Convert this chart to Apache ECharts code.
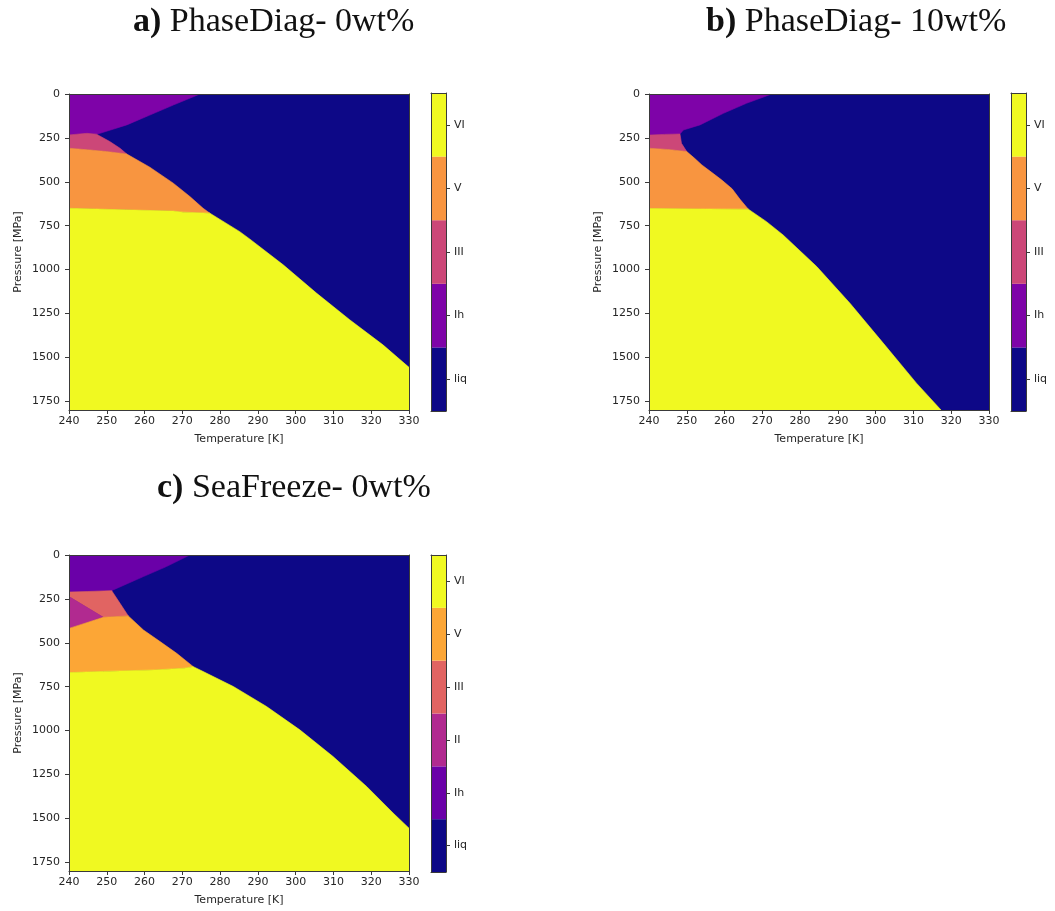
<!DOCTYPE html>
<html>
<head>
<meta charset="utf-8">
<script src="https://cdn.jsdelivr.net/npm/echarts@6/dist/echarts.min.js"></script>
<style>html,body{margin:0;padding:0;background:#fff}#c{width:1055px;height:911px}</style>
</head>
<body>
<div id="c"></div>
<script>
// ---- axes / categories ----
const T_MIN = 240, T_MAX = 330, T_STEP = 10;
const P_MIN = 0, P_MAX = 1800;
const yTicks = [0, 250, 500, 750, 1000, 1250, 1500, 1750];
const catsAB = ['liq', 'Ih', 'III', 'V', 'VI'];
const colorsAB = ['#0d0887', '#7e03a8', '#cc4778', '#f89540', '#f0f921'];
const catsC = ['liq', 'Ih', 'II', 'III', 'V', 'VI'];
const colorsC = ['#0d0887', '#6a00a8', '#b12a90', '#e16462', '#fca636', '#f0f921'];

// ---- phase regions (Temperature K, Pressure MPa) ----
const liqRegion = [[240, 0], [330, 0], [330, 1800], [240, 1800]];

// a) PhaseDiag- 0wt%
const aIh = [[240, 0], [274.7, 0], [267.6, 63], [261.4, 120], [255.3, 176], [248.2, 224], [247.3, 229], [244.7, 224], [240, 233]];
const aIII = [[240, 233], [244.7, 224], [247.3, 229], [250.8, 271], [253.5, 309], [255.3, 342], [250, 328], [245, 318], [240, 309]];
const aV = [[240, 309], [245, 318], [250, 328], [255.3, 342], [261.4, 417], [267.6, 508], [272, 584], [275.5, 651], [277.3, 679], [270.2, 673], [267.6, 667], [255, 660], [240, 651]];
const aVI = [[240, 651], [255, 660], [267.6, 667], [270.2, 673], [277.3, 679], [285.2, 784], [287.9, 827], [296.7, 973], [305.5, 1134], [314.3, 1286], [323.1, 1429], [330, 1557], [330, 1800], [240, 1800]];

// b) PhaseDiag- 10wt%
const bIh = [[240, 0], [272.5, 0], [265.8, 53], [259.7, 110], [253.5, 176], [249.1, 205], [248.2, 228], [244, 230], [240, 234]];
const bIII = [[240, 234], [244, 230], [248.2, 228], [248.6, 281], [250, 328], [245, 316], [240, 309]];
const bV = [[240, 309], [245, 316], [250, 328], [252, 365], [254, 404], [256.5, 445], [259.2, 489], [262, 540], [264.1, 600], [266.3, 656], [255, 655], [240, 652]];
const bVI = [[240, 652], [255, 655], [266.3, 656], [271.1, 727], [275.5, 803], [284.4, 983], [293.2, 1192], [302, 1419], [310.8, 1647], [317.3, 1800], [240, 1800]];

// c) SeaFreeze- 0wt%
const cIh = [[240, 0], [272, 0], [265.8, 66], [259.7, 123], [251.7, 199], [251.3, 205], [245, 208], [240, 211]];
const cIII = [[240, 211], [245, 208], [251.3, 203], [253.5, 275], [255.7, 347], [249.1, 355], [240, 237]];
const cII = [[240, 237], [249.1, 355], [240, 418]];
const cV = [[240, 418], [249.1, 355], [255.7, 347], [259.7, 427], [264.1, 493], [268.5, 560], [272.9, 636], [270.5, 645], [262.5, 655], [249.1, 663], [240, 670]];
const cVI = [[240, 670], [249.1, 663], [262.5, 655], [270.5, 645], [272.9, 636], [274.7, 655], [283.5, 749], [292.3, 863], [301.1, 996], [309.9, 1148], [318.8, 1319], [325.8, 1470], [330, 1556], [330, 1800], [240, 1800]];

const panels = [
  { title: 'PhaseDiag- 0wt%', tag: 'a)', tLeft: 128, tTop: 0, left: 69, top: 94, cbLeft: 431, cbTop: 93, cbH: 318,
    cats: catsAB, colors: colorsAB,
    regions: [[liqRegion, 'liq'], [aIh, 'Ih'], [aIII, 'III'], [aV, 'V'], [aVI, 'VI']] },
  { title: 'PhaseDiag- 10wt%', tag: 'b)', tLeft: 701, tTop: 0, left: 649, top: 94, cbLeft: 1011, cbTop: 93, cbH: 318,
    cats: catsAB, colors: colorsAB,
    regions: [[liqRegion, 'liq'], [bIh, 'Ih'], [bIII, 'III'], [bV, 'V'], [bVI, 'VI']] },
  { title: 'SeaFreeze- 0wt%', tag: 'c)', tLeft: 152, tTop: 466, left: 69, top: 555, cbLeft: 431, cbTop: 555, cbH: 317,
    cats: catsC, colors: colorsC,
    regions: [[liqRegion, 'liq'], [cIh, 'Ih'], [cIII, 'III'], [cII, 'II'], [cV, 'V'], [cVI, 'VI']] }
];

const FONT = 'DejaVu Sans';
const TXT = '#262626';
const LINE = '#3a3a3a';
const option = { animation: false, title: [], grid: [], xAxis: [], yAxis: [], series: [] };
const plain = v => String(v);

panels.forEach(p => {
  option.title.push({
    left: p.tLeft, top: p.tTop,
    text: '{b|' + p.tag + '} ' + p.title,
    textStyle: { fontFamily: 'Liberation Serif', fontSize: 34, fontWeight: 'normal', color: '#111',
      rich: { b: { fontFamily: 'Liberation Serif', fontSize: 34, fontWeight: 'bold', color: '#111' } } }
  });
  const g = option.grid.length;
  option.grid.push({ left: p.left, top: p.top, width: 340, height: 316 });
  option.grid.push({ left: p.cbLeft, top: p.cbTop, width: 15, height: p.cbH });
  const xi = option.xAxis.length, yi = option.yAxis.length;
  const noSplit = { show: false };
  const frameLine = { show: true, onZero: false, lineStyle: { color: LINE, width: 1 } };
  option.xAxis.push({ gridIndex: g, type: 'value', min: T_MIN, max: T_MAX, interval: T_STEP, z: 5,
    name: 'Temperature [K]', nameLocation: 'middle', nameGap: 24,
    nameTextStyle: { fontFamily: FONT, fontSize: 11, color: TXT },
    axisLine: frameLine,
    axisTick: { show: true, length: 4, lineStyle: { color: LINE } },
    axisLabel: { fontFamily: FONT, fontSize: 11, color: TXT, margin: 6, formatter: plain },
    splitLine: noSplit });
  option.xAxis.push({ gridIndex: g, type: 'value', position: 'top', min: T_MIN, max: T_MAX, z: 5,
    axisLine: frameLine, axisTick: { show: false }, axisLabel: { show: false }, splitLine: noSplit });
  option.xAxis.push({ gridIndex: g + 1, type: 'value', min: 0, max: 1, z: 5,
    axisLine: frameLine, axisTick: { show: false }, axisLabel: { show: false }, splitLine: noSplit });
  option.xAxis.push({ gridIndex: g + 1, type: 'value', position: 'top', min: 0, max: 1, z: 5,
    axisLine: frameLine, axisTick: { show: false }, axisLabel: { show: false }, splitLine: noSplit });

  option.yAxis.push({ gridIndex: g, type: 'value', inverse: true, min: P_MIN, max: P_MAX, interval: 250, z: 5,
    name: 'Pressure [MPa]', nameLocation: 'middle', nameGap: 45,
    nameTextStyle: { fontFamily: FONT, fontSize: 11, color: TXT },
    axisLine: frameLine,
    axisTick: { show: true, length: 4, lineStyle: { color: LINE }, customValues: yTicks },
    axisLabel: { fontFamily: FONT, fontSize: 11, color: TXT, margin: 9, customValues: yTicks, formatter: plain },
    splitLine: noSplit });
  option.yAxis.push({ gridIndex: g, type: 'value', position: 'right', inverse: true, min: P_MIN, max: P_MAX, z: 5,
    axisLine: frameLine, axisTick: { show: false }, axisLabel: { show: false }, splitLine: noSplit });
  option.yAxis.push({ gridIndex: g + 1, type: 'category', position: 'right', data: p.cats, z: 5,
    axisLine: frameLine,
    axisTick: { show: true, alignWithLabel: true, length: 4, lineStyle: { color: LINE } },
    axisLabel: { fontFamily: FONT, fontSize: 11, color: TXT, margin: 8 },
    splitLine: noSplit });
  option.yAxis.push({ gridIndex: g + 1, type: 'value', position: 'left', z: 5,
    axisLine: frameLine, axisTick: { show: false }, axisLabel: { show: false }, splitLine: noSplit });

  const regions = p.regions;
  option.series.push({
    type: 'custom', xAxisIndex: xi, yAxisIndex: yi, clip: true, silent: true,
    data: regions.map(r => r[0][0]),
    renderItem: (params, api) => {
      const r = regions[params.dataIndex];
      const col = p.colors[p.cats.indexOf(r[1])];
      return { type: 'polygon', shape: { points: r[0].map(v => api.coord(v)) },
        style: { fill: col, stroke: col, lineWidth: 0.6 } };
    }
  });
  option.series.push({
    type: 'bar', xAxisIndex: xi + 2, yAxisIndex: yi + 2, barWidth: '100%', silent: true,
    data: p.cats.map((c, k) => ({ value: 1, itemStyle: { color: p.colors[k] } }))
  });
});

const chart = echarts.init(document.getElementById('c'), null, { renderer: 'canvas' });
chart.setOption(option);
</script>
</body>
</html>
